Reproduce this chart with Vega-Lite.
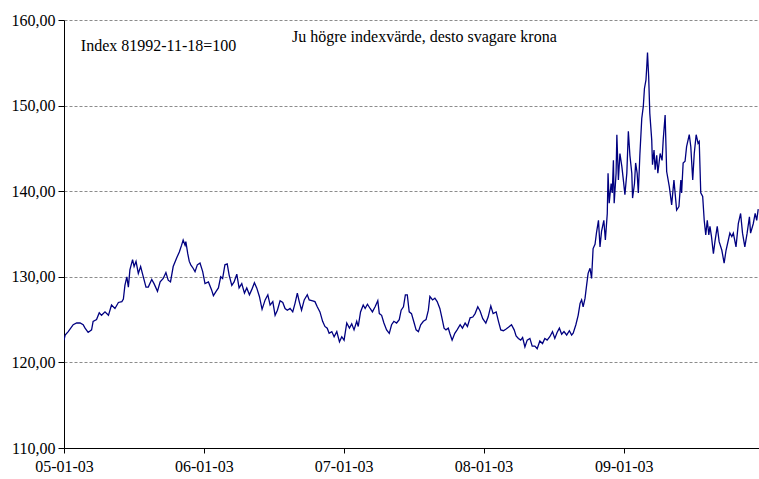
{
  "$schema": "https://vega.github.io/schema/vega-lite/v6.json",
  "width": 695,
  "height": 428,
  "autosize": {"type": "none"},
  "padding": {"left": 64, "top": 20, "right": 0, "bottom": 31},
  "background": "white",
  "config": {
    "view": {"stroke": null},
    "font": "Liberation Serif, Times New Roman, serif",
    "axis": {"labelFont": "Liberation Serif, Times New Roman, serif", "labelFontSize": 16, "labelColor": "#000"},
    "text": {"font": "Liberation Serif, Times New Roman, serif"}
  },
  "datasets": {
    "kurs": [
      {"d":"2005-01-03","v":122.6},{"d":"2005-01-06","v":123.2},{"d":"2005-01-14","v":123.6},{"d":"2005-01-27","v":124.4},
      {"d":"2005-02-05","v":124.6},{"d":"2005-02-14","v":124.6},{"d":"2005-02-22","v":124.4},{"d":"2005-02-27","v":124.0},
      {"d":"2005-03-07","v":123.5},{"d":"2005-03-16","v":123.8},{"d":"2005-03-20","v":124.8},{"d":"2005-03-29","v":125.0},
      {"d":"2005-04-05","v":125.8},{"d":"2005-04-11","v":125.5},{"d":"2005-04-20","v":125.9},{"d":"2005-04-29","v":125.5},
      {"d":"2005-05-07","v":126.7},{"d":"2005-05-16","v":126.3},{"d":"2005-05-25","v":127.0},{"d":"2005-06-03","v":127.1},
      {"d":"2005-06-07","v":127.4},{"d":"2005-06-11","v":129.0},{"d":"2005-06-16","v":130.0},{"d":"2005-06-20","v":128.8},
      {"d":"2005-06-24","v":130.8},{"d":"2005-07-01","v":132.0},{"d":"2005-07-05","v":131.2},{"d":"2005-07-10","v":131.8},
      {"d":"2005-07-16","v":130.4},{"d":"2005-07-22","v":131.2},{"d":"2005-07-29","v":130.0},{"d":"2005-08-05","v":128.8},
      {"d":"2005-08-11","v":128.8},{"d":"2005-08-20","v":129.7},{"d":"2005-08-26","v":129.2},{"d":"2005-09-04","v":128.3},
      {"d":"2005-09-11","v":129.4},{"d":"2005-09-19","v":129.8},{"d":"2005-09-26","v":130.5},{"d":"2005-10-02","v":129.6},
      {"d":"2005-10-08","v":129.4},{"d":"2005-10-15","v":131.2},{"d":"2005-10-24","v":132.2},{"d":"2005-10-31","v":132.9},
      {"d":"2005-11-06","v":133.7},{"d":"2005-11-10","v":134.3},{"d":"2005-11-15","v":133.7},{"d":"2005-11-17","v":134.1},
      {"d":"2005-11-22","v":132.7},{"d":"2005-11-26","v":131.8},{"d":"2005-11-30","v":131.4},{"d":"2005-12-06","v":131.0},
      {"d":"2005-12-11","v":130.6},{"d":"2005-12-17","v":131.4},{"d":"2005-12-24","v":131.6},{"d":"2005-12-31","v":130.6},
      {"d":"2006-01-06","v":129.2},{"d":"2006-01-15","v":129.4},{"d":"2006-01-23","v":128.5},{"d":"2006-01-28","v":127.8},
      {"d":"2006-02-04","v":128.3},{"d":"2006-02-10","v":128.7},{"d":"2006-02-16","v":130.0},{"d":"2006-02-21","v":129.8},
      {"d":"2006-02-27","v":131.4},{"d":"2006-03-05","v":131.5},{"d":"2006-03-10","v":130.2},{"d":"2006-03-17","v":129.0},
      {"d":"2006-03-23","v":129.4},{"d":"2006-03-30","v":130.3},{"d":"2006-04-05","v":128.7},{"d":"2006-04-12","v":129.2},
      {"d":"2006-04-19","v":128.1},{"d":"2006-04-25","v":128.7},{"d":"2006-05-02","v":127.9},{"d":"2006-05-08","v":128.5},
      {"d":"2006-05-15","v":129.3},{"d":"2006-05-21","v":128.7},{"d":"2006-05-28","v":127.7},{"d":"2006-06-04","v":126.2},
      {"d":"2006-06-12","v":127.3},{"d":"2006-06-19","v":127.9},{"d":"2006-06-25","v":126.7},{"d":"2006-07-02","v":127.1},
      {"d":"2006-07-08","v":125.5},{"d":"2006-07-14","v":126.1},{"d":"2006-07-21","v":127.2},{"d":"2006-07-28","v":127.0},
      {"d":"2006-08-03","v":126.3},{"d":"2006-08-09","v":126.1},{"d":"2006-08-16","v":126.3},{"d":"2006-08-23","v":125.9},
      {"d":"2006-08-29","v":126.9},{"d":"2006-09-04","v":128.1},{"d":"2006-09-09","v":127.1},{"d":"2006-09-15","v":126.1},
      {"d":"2006-09-22","v":127.3},{"d":"2006-09-30","v":127.9},{"d":"2006-10-05","v":127.3},{"d":"2006-10-14","v":127.2},
      {"d":"2006-10-20","v":127.1},{"d":"2006-10-26","v":126.5},{"d":"2006-11-02","v":125.9},{"d":"2006-11-09","v":124.8},
      {"d":"2006-11-15","v":124.2},{"d":"2006-11-21","v":124.0},{"d":"2006-11-26","v":123.4},{"d":"2006-12-03","v":123.6},
      {"d":"2006-12-09","v":123.0},{"d":"2006-12-16","v":123.6},{"d":"2006-12-23","v":122.4},{"d":"2006-12-29","v":123.0},
      {"d":"2007-01-04","v":122.6},{"d":"2007-01-11","v":124.6},{"d":"2007-01-18","v":124.0},{"d":"2007-01-24","v":124.5},
      {"d":"2007-01-30","v":123.8},{"d":"2007-02-06","v":124.8},{"d":"2007-02-10","v":124.2},{"d":"2007-02-16","v":125.9},
      {"d":"2007-02-23","v":126.7},{"d":"2007-02-28","v":126.3},{"d":"2007-03-06","v":126.8},{"d":"2007-03-13","v":126.3},
      {"d":"2007-03-19","v":125.9},{"d":"2007-03-26","v":126.5},{"d":"2007-04-02","v":127.2},{"d":"2007-04-06","v":125.7},
      {"d":"2007-04-12","v":125.5},{"d":"2007-04-18","v":124.6},{"d":"2007-04-25","v":123.8},{"d":"2007-05-02","v":123.4},
      {"d":"2007-05-08","v":124.4},{"d":"2007-05-14","v":124.8},{"d":"2007-05-21","v":124.6},{"d":"2007-05-28","v":125.0},
      {"d":"2007-06-02","v":126.1},{"d":"2007-06-08","v":126.5},{"d":"2007-06-13","v":127.9},{"d":"2007-06-18","v":127.9},
      {"d":"2007-06-23","v":125.9},{"d":"2007-06-29","v":125.7},{"d":"2007-07-06","v":124.6},{"d":"2007-07-11","v":123.8},
      {"d":"2007-07-17","v":123.6},{"d":"2007-07-23","v":124.4},{"d":"2007-07-30","v":124.8},{"d":"2007-08-06","v":125.0},
      {"d":"2007-08-12","v":126.1},{"d":"2007-08-16","v":127.7},{"d":"2007-08-23","v":127.3},{"d":"2007-08-29","v":127.5},
      {"d":"2007-09-04","v":127.1},{"d":"2007-09-11","v":126.3},{"d":"2007-09-16","v":125.3},{"d":"2007-09-22","v":124.0},
      {"d":"2007-09-27","v":123.8},{"d":"2007-10-03","v":124.0},{"d":"2007-10-07","v":123.4},{"d":"2007-10-13","v":122.6},
      {"d":"2007-10-20","v":123.4},{"d":"2007-10-26","v":123.8},{"d":"2007-11-03","v":124.4},{"d":"2007-11-09","v":124.0},
      {"d":"2007-11-16","v":124.6},{"d":"2007-11-22","v":124.2},{"d":"2007-11-29","v":125.2},{"d":"2007-12-06","v":125.3},
      {"d":"2007-12-12","v":125.7},{"d":"2007-12-19","v":126.5},{"d":"2007-12-25","v":126.0},{"d":"2008-01-01","v":125.1},
      {"d":"2008-01-09","v":124.6},{"d":"2008-01-15","v":125.3},{"d":"2008-01-22","v":126.6},{"d":"2008-01-28","v":125.7},
      {"d":"2008-02-05","v":125.9},{"d":"2008-02-11","v":124.8},{"d":"2008-02-17","v":123.8},{"d":"2008-02-24","v":123.7},
      {"d":"2008-03-02","v":123.9},{"d":"2008-03-08","v":124.1},{"d":"2008-03-16","v":124.4},{"d":"2008-03-23","v":123.8},
      {"d":"2008-03-28","v":123.1},{"d":"2008-04-03","v":122.8},{"d":"2008-04-09","v":122.6},{"d":"2008-04-14","v":122.9},
      {"d":"2008-04-20","v":121.8},{"d":"2008-04-26","v":122.6},{"d":"2008-05-03","v":122.8},{"d":"2008-05-09","v":121.9},
      {"d":"2008-05-16","v":121.9},{"d":"2008-05-22","v":121.6},{"d":"2008-05-29","v":122.5},{"d":"2008-06-05","v":122.2},
      {"d":"2008-06-11","v":122.8},{"d":"2008-06-17","v":122.6},{"d":"2008-06-24","v":123.0},{"d":"2008-07-01","v":123.6},
      {"d":"2008-07-07","v":122.8},{"d":"2008-07-13","v":123.5},{"d":"2008-07-19","v":124.0},{"d":"2008-07-25","v":123.3},
      {"d":"2008-07-31","v":123.6},{"d":"2008-08-07","v":123.2},{"d":"2008-08-14","v":123.7},{"d":"2008-08-20","v":123.2},
      {"d":"2008-08-24","v":123.4},{"d":"2008-08-31","v":124.4},{"d":"2008-09-06","v":125.5},{"d":"2008-09-11","v":126.9},
      {"d":"2008-09-15","v":127.3},{"d":"2008-09-19","v":126.5},{"d":"2008-09-24","v":127.5},{"d":"2008-09-28","v":129.0},
      {"d":"2008-10-02","v":130.4},{"d":"2008-10-07","v":131.0},{"d":"2008-10-11","v":129.8},{"d":"2008-10-15","v":133.3},
      {"d":"2008-10-20","v":133.8},{"d":"2008-10-24","v":135.2},{"d":"2008-10-29","v":136.6},{"d":"2008-11-02","v":133.5},
      {"d":"2008-11-06","v":135.3},{"d":"2008-11-12","v":136.6},{"d":"2008-11-16","v":134.3},{"d":"2008-11-21","v":137.4},
      {"d":"2008-11-23","v":142.1},{"d":"2008-11-26","v":138.6},{"d":"2008-12-01","v":140.9},{"d":"2008-12-04","v":139.8},
      {"d":"2008-12-07","v":143.6},{"d":"2008-12-09","v":138.6},{"d":"2008-12-14","v":142.1},{"d":"2008-12-16","v":146.6},
      {"d":"2008-12-20","v":141.3},{"d":"2008-12-24","v":144.4},{"d":"2008-12-29","v":142.9},{"d":"2009-01-02","v":141.3},
      {"d":"2009-01-06","v":139.6},{"d":"2009-01-11","v":142.1},{"d":"2009-01-15","v":147.0},{"d":"2009-01-19","v":144.2},
      {"d":"2009-01-24","v":142.1},{"d":"2009-01-26","v":139.2},{"d":"2009-01-31","v":140.9},{"d":"2009-02-03","v":143.3},
      {"d":"2009-02-07","v":142.1},{"d":"2009-02-10","v":139.8},{"d":"2009-02-14","v":144.2},{"d":"2009-02-19","v":148.5},
      {"d":"2009-02-23","v":149.9},{"d":"2009-02-26","v":152.0},{"d":"2009-03-02","v":153.0},{"d":"2009-03-04","v":154.5},
      {"d":"2009-03-06","v":156.2},{"d":"2009-03-09","v":153.4},{"d":"2009-03-12","v":149.1},{"d":"2009-03-17","v":146.0},
      {"d":"2009-03-19","v":143.1},{"d":"2009-03-23","v":144.8},{"d":"2009-03-26","v":142.5},{"d":"2009-03-30","v":144.2},
      {"d":"2009-04-02","v":142.1},{"d":"2009-04-08","v":144.4},{"d":"2009-04-13","v":143.6},{"d":"2009-04-16","v":146.0},
      {"d":"2009-04-21","v":148.9},{"d":"2009-04-25","v":142.3},{"d":"2009-05-02","v":140.5},{"d":"2009-05-08","v":138.4},
      {"d":"2009-05-14","v":141.3},{"d":"2009-05-21","v":137.8},{"d":"2009-05-27","v":138.2},{"d":"2009-06-01","v":141.3},
      {"d":"2009-06-03","v":139.8},{"d":"2009-06-07","v":143.3},{"d":"2009-06-12","v":143.5},{"d":"2009-06-16","v":145.2},
      {"d":"2009-06-23","v":146.6},{"d":"2009-06-27","v":145.2},{"d":"2009-07-02","v":141.3},{"d":"2009-07-06","v":144.4},
      {"d":"2009-07-11","v":146.6},{"d":"2009-07-16","v":145.6},{"d":"2009-07-19","v":145.8},{"d":"2009-07-23","v":139.8},
      {"d":"2009-07-28","v":139.4},{"d":"2009-08-01","v":136.6},{"d":"2009-08-05","v":134.9},{"d":"2009-08-09","v":136.6},
      {"d":"2009-08-13","v":134.9},{"d":"2009-08-16","v":135.9},{"d":"2009-08-20","v":134.7},{"d":"2009-08-25","v":132.7},
      {"d":"2009-08-29","v":134.1},{"d":"2009-09-04","v":135.9},{"d":"2009-09-09","v":134.1},{"d":"2009-09-16","v":133.1},
      {"d":"2009-09-22","v":131.6},{"d":"2009-09-27","v":133.1},{"d":"2009-10-03","v":134.3},{"d":"2009-10-07","v":135.1},
      {"d":"2009-10-12","v":134.7},{"d":"2009-10-16","v":135.1},{"d":"2009-10-23","v":133.5},{"d":"2009-10-29","v":136.2},
      {"d":"2009-11-04","v":137.4},{"d":"2009-11-09","v":135.1},{"d":"2009-11-15","v":133.5},{"d":"2009-11-21","v":135.1},
      {"d":"2009-11-27","v":137.0},{"d":"2009-11-30","v":135.1},{"d":"2009-12-07","v":136.2},{"d":"2009-12-12","v":137.4},
      {"d":"2009-12-16","v":136.6},{"d":"2009-12-20","v":137.9}
    ]
  },
  "layer": [
    {
      "data": {"name": "kurs"},
      "mark": {"type": "line", "color": "#000080", "strokeWidth": 1.3, "clip": true},
      "encoding": {
        "x": {
          "field": "d", "type": "temporal",
          "scale": {"type": "utc", "domain": ["2005-01-03", "2009-12-22"]},
          "axis": {
            "title": null,
            "values": [
              {"year": 2005, "month": 1, "date": 3, "utc": true},
              {"year": 2006, "month": 1, "date": 3, "utc": true},
              {"year": 2007, "month": 1, "date": 3, "utc": true},
              {"year": 2008, "month": 1, "date": 3, "utc": true},
              {"year": 2009, "month": 1, "date": 3, "utc": true}
            ],
            "labelExpr": "utcFormat(datum.value, '%y-%m-%d')",
            "labelFont": "Liberation Serif",
            "labelFontSize": 16,
            "grid": false,
            "domainColor": "#000", "domainWidth": 1,
            "tickColor": "#000", "tickSize": 5,
            "labelPadding": 5,
            "labelAlign": "center",
            "labelFlush": false,
            "labelOverlap": false
          }
        },
        "y": {
          "field": "v", "type": "quantitative",
          "scale": {"domain": [110, 160], "nice": false, "zero": false},
          "axis": {
            "title": null,
            "values": [110, 120, 130, 140, 150, 160],
            "labelExpr": "replace(format(datum.value, '.2f'), '.', ',')",
            "labelFont": "Liberation Serif",
            "labelFontSize": 16,
            "grid": true,
            "gridColor": "#8c8c8c", "gridDash": [3, 2], "gridWidth": 1,
            "domainColor": "#000", "domainWidth": 1,
            "tickColor": "#000", "tickSize": 6,
            "labelPadding": 3,
            "labelFlush": false
          }
        }
      }
    },
    {
      "data": {"values": [{"label": "Index 81992-11-18=100"}]},
      "mark": {"type": "text", "align": "left", "baseline": "middle", "font": "Liberation Serif", "fontSize": 16, "color": "#000"},
      "encoding": {
        "text": {"field": "label", "type": "nominal"},
        "x": {"datum": {"year": 2005, "month": 2, "date": 16, "utc": true}, "type": "temporal"},
        "y": {"datum": 156.95, "type": "quantitative"}
      }
    },
    {
      "data": {"values": [{"label": "Ju högre indexvärde, desto svagare krona"}]},
      "mark": {"type": "text", "align": "left", "baseline": "middle", "font": "Liberation Serif", "fontSize": 16, "color": "#000"},
      "encoding": {
        "text": {"field": "label", "type": "nominal"},
        "x": {"datum": {"year": 2006, "month": 8, "date": 21, "utc": true}, "type": "temporal"},
        "y": {"datum": 158.0, "type": "quantitative"}
      }
    }
  ]
}
